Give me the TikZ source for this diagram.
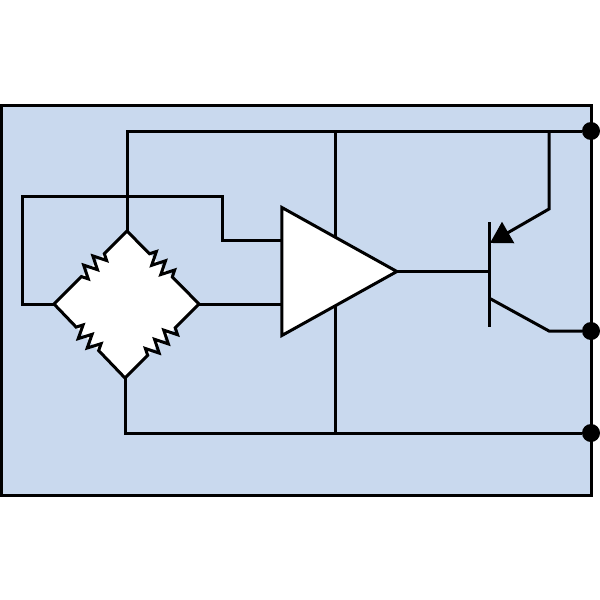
\documentclass[tikz,border=0pt]{standalone}
\usepackage{xcolor}
\usetikzlibrary{arrows.meta,shapes.geometric,decorations.pathmorphing}
\definecolor{panel}{RGB}{201, 217, 238}
\tikzstyle{wire} = [
    line width=3pt,
    draw=black,
    line join=miter
]
\tikzstyle{resistor} = [
    wire,
    decorate,
    decoration={zigzag,segment length=13pt,amplitude=6.5pt,pre length=32pt,post length=33pt}
]
\tikzstyle{terminal} = [
    circle,
    fill=black,
    inner sep=0pt,
    minimum size=18pt
]
\tikzstyle{amplifier} = [
    isosceles triangle,
    isosceles triangle stretches,
    minimum width=128pt,
    minimum height=115pt,
    inner sep=0pt,
    outer sep=0pt,
    fill=white,
    line width=3pt,
    draw=black
]
\begin{document}
\begin{tikzpicture}[x=1pt,y=-1pt]
    \useasboundingbox (0,0) rectangle (600,600);
    \draw[wire, fill=panel] (1,105) rectangle (591,495);
    % bridge corners
    \coordinate (top) at (127,231);
    \coordinate (left) at (54,304);
    \coordinate (right) at (199,304);
    \coordinate (bottom) at (125,378);
    \fill[white] (top) -- (right) -- (bottom) -- (left) -- cycle;
    \draw[resistor] (top) -- (left);
    \draw[resistor] (top) -- (right);
    \draw[resistor] (left) -- (bottom);
    \draw[resistor] (bottom) -- (right);
    % terminals
    \node[terminal] (supply) at (591,131) {};
    \node[terminal] (output) at (591,331) {};
    \node[terminal] (ground) at (591,433) {};
    \draw[wire] (supply) -- (ground);
    \draw[wire] (top) -- (127,131) -- (supply);
    \draw[wire] (bottom) -- (125,433) -- (ground);
    \draw[wire] (335,131) -- (335,433);
    % amplifier and its inputs
    \node[amplifier] (amp) at (319.5,271.5) {};
    \coordinate (plus) at (amp.west |- 0,240);
    \coordinate (minus) at (amp.west |- 0,304);
    \draw[wire] (left) -- (22,304) -- (22,196) -- (222,196) -- (222,240) -- (plus);
    \draw[wire] (right) -- (minus);
    % transistor
    \coordinate (base) at (amp.east -| 489,0);
    \draw[wire] (489,222) -- (489,327);
    \draw[wire] (amp.east) -- (base);
    \draw[wire, -{Triangle[length=21pt,width=24pt]}] (549,131) -- (549,209) -- (490,243);
    \draw[wire] (489,298) -- (549,331) -- (output);
\end{tikzpicture}
\end{document}
